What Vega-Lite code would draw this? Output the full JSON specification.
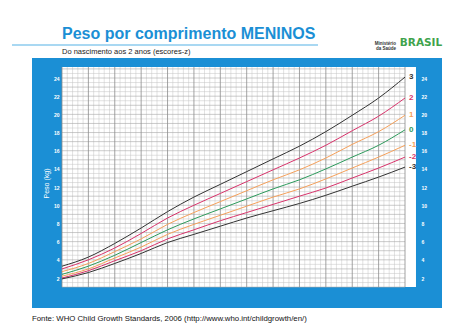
{
  "$schema": "https://vega.github.io/schema/vega-lite/v6.json",
  "width": 410,
  "height": 250,
  "autosize": "none",
  "padding": {"left": 32, "top": 58, "right": 32, "bottom": 27},
  "background": "white",
  "config": {"view": {"fill": "#1b8fd5", "stroke": null}, "font": "Liberation Sans"},
  "title": {
    "text": "Peso por comprimento MENINOS",
    "subtitle": "Do nascimento aos 2 anos (escores-z)",
    "anchor": "start",
    "frame": "group",
    "dx": 30,
    "offset": -18,
    "color": "#1b8fd5",
    "fontSize": 16,
    "fontWeight": "bold",
    "font": "Liberation Sans",
    "subtitleColor": "#222222",
    "subtitleFontSize": 7.5,
    "subtitleFont": "Liberation Sans",
    "subtitlePadding": 6
  },
  "datasets": {
    "curves": [
      {"len":45,"z":"3","w":3.3},{"len":50,"z":"3","w":4.3},{"len":55,"z":"3","w":5.8},{"len":60,"z":"3","w":7.5},{"len":65,"z":"3","w":9.3},{"len":70,"z":"3","w":10.9},{"len":75,"z":"3","w":12.3},{"len":80,"z":"3","w":13.7},{"len":85,"z":"3","w":15.1},{"len":90,"z":"3","w":16.5},{"len":95,"z":"3","w":18.1},{"len":100,"z":"3","w":19.9},{"len":105,"z":"3","w":21.8},{"len":110,"z":"3","w":24.1},
      {"len":45,"z":"2","w":3.0},{"len":50,"z":"2","w":4.0},{"len":55,"z":"2","w":5.3},{"len":60,"z":"2","w":6.9},{"len":65,"z":"2","w":8.6},{"len":70,"z":"2","w":10.0},{"len":75,"z":"2","w":11.3},{"len":80,"z":"2","w":12.6},{"len":85,"z":"2","w":13.9},{"len":90,"z":"2","w":15.2},{"len":95,"z":"2","w":16.6},{"len":100,"z":"2","w":18.2},{"len":105,"z":"2","w":19.8},{"len":110,"z":"2","w":21.8},
      {"len":45,"z":"1","w":2.7},{"len":50,"z":"1","w":3.6},{"len":55,"z":"1","w":4.9},{"len":60,"z":"1","w":6.3},{"len":65,"z":"1","w":7.9},{"len":70,"z":"1","w":9.2},{"len":75,"z":"1","w":10.4},{"len":80,"z":"1","w":11.6},{"len":85,"z":"1","w":12.8},{"len":90,"z":"1","w":13.9},{"len":95,"z":"1","w":15.2},{"len":100,"z":"1","w":16.7},{"len":105,"z":"1","w":18.1},{"len":110,"z":"1","w":19.9},
      {"len":45,"z":"0","w":2.4},{"len":50,"z":"0","w":3.3},{"len":55,"z":"0","w":4.5},{"len":60,"z":"0","w":5.9},{"len":65,"z":"0","w":7.3},{"len":70,"z":"0","w":8.5},{"len":75,"z":"0","w":9.6},{"len":80,"z":"0","w":10.7},{"len":85,"z":"0","w":11.8},{"len":90,"z":"0","w":12.8},{"len":95,"z":"0","w":14.0},{"len":100,"z":"0","w":15.3},{"len":105,"z":"0","w":16.6},{"len":110,"z":"0","w":18.3},
      {"len":45,"z":"-1","w":2.2},{"len":50,"z":"-1","w":3.0},{"len":55,"z":"-1","w":4.2},{"len":60,"z":"-1","w":5.4},{"len":65,"z":"-1","w":6.8},{"len":70,"z":"-1","w":7.9},{"len":75,"z":"-1","w":8.9},{"len":80,"z":"-1","w":9.9},{"len":85,"z":"-1","w":10.9},{"len":90,"z":"-1","w":11.8},{"len":95,"z":"-1","w":12.9},{"len":100,"z":"-1","w":14.1},{"len":105,"z":"-1","w":15.3},{"len":110,"z":"-1","w":16.6},
      {"len":45,"z":"-2","w":2.0},{"len":50,"z":"-2","w":2.8},{"len":55,"z":"-2","w":3.9},{"len":60,"z":"-2","w":5.0},{"len":65,"z":"-2","w":6.3},{"len":70,"z":"-2","w":7.3},{"len":75,"z":"-2","w":8.3},{"len":80,"z":"-2","w":9.2},{"len":85,"z":"-2","w":10.1},{"len":90,"z":"-2","w":11.0},{"len":95,"z":"-2","w":11.9},{"len":100,"z":"-2","w":13.0},{"len":105,"z":"-2","w":14.1},{"len":110,"z":"-2","w":15.3},
      {"len":45,"z":"-3","w":1.9},{"len":50,"z":"-3","w":2.6},{"len":55,"z":"-3","w":3.6},{"len":60,"z":"-3","w":4.7},{"len":65,"z":"-3","w":5.9},{"len":70,"z":"-3","w":6.8},{"len":75,"z":"-3","w":7.7},{"len":80,"z":"-3","w":8.6},{"len":85,"z":"-3","w":9.4},{"len":90,"z":"-3","w":10.2},{"len":95,"z":"-3","w":11.1},{"len":100,"z":"-3","w":12.1},{"len":105,"z":"-3","w":13.1},{"len":110,"z":"-3","w":14.2}
    ],
    "vmajor": [{"v":45},{"v":50},{"v":55},{"v":60},{"v":65},{"v":70},{"v":75},{"v":80},{"v":85},{"v":90},{"v":95},{"v":100},{"v":105},{"v":110}],
    "vminor": [{"v":46},{"v":47},{"v":48},{"v":49},{"v":51},{"v":52},{"v":53},{"v":54},{"v":56},{"v":57},{"v":58},{"v":59},{"v":61},{"v":62},{"v":63},{"v":64},{"v":66},{"v":67},{"v":68},{"v":69},{"v":71},{"v":72},{"v":73},{"v":74},{"v":76},{"v":77},{"v":78},{"v":79},{"v":81},{"v":82},{"v":83},{"v":84},{"v":86},{"v":87},{"v":88},{"v":89},{"v":91},{"v":92},{"v":93},{"v":94},{"v":96},{"v":97},{"v":98},{"v":99},{"v":101},{"v":102},{"v":103},{"v":104},{"v":106},{"v":107},{"v":108},{"v":109}],
    "hmajor": [{"h":1},{"h":2},{"h":3},{"h":4},{"h":5},{"h":6},{"h":7},{"h":8},{"h":9},{"h":10},{"h":11},{"h":12},{"h":13},{"h":14},{"h":15},{"h":16},{"h":17},{"h":18},{"h":19},{"h":20},{"h":21},{"h":22},{"h":23},{"h":24},{"h":25}],
    "hminor": [{"h":1.5},{"h":2.5},{"h":3.5},{"h":4.5},{"h":5.5},{"h":6.5},{"h":7.5},{"h":8.5},{"h":9.5},{"h":10.5},{"h":11.5},{"h":12.5},{"h":13.5},{"h":14.5},{"h":15.5},{"h":16.5},{"h":17.5},{"h":18.5},{"h":19.5},{"h":20.5},{"h":21.5},{"h":22.5},{"h":23.5},{"h":24.5}]
  },
  "layer": [
    {
      "data": {"values": [{}]},
      "mark": {"type": "rect", "fill": "white"},
      "encoding": {
        "x": {"datum": 45, "type": "quantitative", "scale": {"domain": [39.315, 117.01], "nice": false, "zero": false}, "axis": null},
        "x2": {"datum": 112.08},
        "y": {"datum": 1.01, "type": "quantitative", "scale": {"domain": [-1.3, 26.2], "nice": false, "zero": false}, "axis": null},
        "y2": {"datum": 25.21}
      }
    },
    {
      "data": {"name": "vminor"},
      "mark": {"type": "rule", "color": "#c4c4c4", "strokeWidth": 0.5},
      "encoding": {
        "x": {"field": "v", "type": "quantitative", "scale": {"domain": [39.315, 117.01], "nice": false, "zero": false}, "axis": null},
        "y": {"datum": 1.01, "type": "quantitative", "scale": {"domain": [-1.3, 26.2], "nice": false, "zero": false}, "axis": null},
        "y2": {"datum": 25.21}
      }
    },
    {
      "data": {"name": "hminor"},
      "mark": {"type": "rule", "color": "#c4c4c4", "strokeWidth": 0.5},
      "encoding": {
        "y": {"field": "h", "type": "quantitative", "scale": {"domain": [-1.3, 26.2], "nice": false, "zero": false}, "axis": null},
        "x": {"datum": 45, "type": "quantitative", "scale": {"domain": [39.315, 117.01], "nice": false, "zero": false}, "axis": null},
        "x2": {"datum": 110}
      }
    },
    {
      "data": {"name": "hmajor"},
      "mark": {"type": "rule", "color": "#a8a8a8", "strokeWidth": 0.6},
      "encoding": {
        "y": {"field": "h", "type": "quantitative", "scale": {"domain": [-1.3, 26.2], "nice": false, "zero": false}, "axis": null},
        "x": {"datum": 45, "type": "quantitative", "scale": {"domain": [39.315, 117.01], "nice": false, "zero": false}, "axis": null},
        "x2": {"datum": 110}
      }
    },
    {
      "data": {"name": "vmajor"},
      "mark": {"type": "rule", "color": "#8c8c8c", "strokeWidth": 0.8},
      "encoding": {
        "x": {"field": "v", "type": "quantitative", "scale": {"domain": [39.315, 117.01], "nice": false, "zero": false}, "axis": null},
        "y": {"datum": 1.01, "type": "quantitative", "scale": {"domain": [-1.3, 26.2], "nice": false, "zero": false}, "axis": null},
        "y2": {"datum": 25.21}
      }
    },
    {
      "data": {"name": "curves"},
      "mark": {"type": "line", "interpolate": "monotone", "strokeWidth": 1},
      "encoding": {
        "x": {"field": "len", "type": "quantitative", "scale": {"domain": [39.315, 117.01], "nice": false, "zero": false},
          "axis": {"values": [45,50,55,60,65,70,75,80,85,90,95,100,105,110], "orient": "bottom", "offset": -21, "domain": false, "ticks": false, "grid": false, "labelColor": "white", "labelFontSize": 5, "labelFontWeight": "bold", "labelPadding": 2, "title": "Comprimento (cm)", "titleColor": "white", "titleFontSize": 8, "titleFontWeight": "normal", "titlePadding": 3}},
        "y": {"field": "w", "type": "quantitative", "scale": {"domain": [-1.3, 26.2], "nice": false, "zero": false},
          "axis": {"values": [2,4,6,8,10,12,14,16,18,20,22,24], "orient": "left", "offset": -30, "domain": false, "ticks": false, "grid": false, "labelColor": "white", "labelFontSize": 5, "labelFontWeight": "bold", "labelPadding": 3, "title": "Peso (kg)", "titleColor": "white", "titleFontSize": 7, "titleFontWeight": "normal", "titlePadding": 4}},
        "color": {"field": "z", "type": "nominal", "scale": {"domain": ["3","2","1","0","-1","-2","-3"], "range": ["#333333","#d8336b","#f5a05a","#2c9a5b","#f5a05a","#d8336b","#333333"]}, "legend": null},
        "order": {"field": "len", "type": "quantitative"}
      }
    },
    {
      "data": {"name": "curves"},
      "transform": [{"filter": "datum.len == 110"}],
      "mark": {"type": "text", "align": "left", "baseline": "middle", "dx": 4, "fontSize": 8, "fontWeight": "bold"},
      "encoding": {
        "x": {"field": "len", "type": "quantitative", "scale": {"domain": [39.315, 117.01], "nice": false, "zero": false}, "axis": null},
        "y": {"field": "w", "type": "quantitative", "scale": {"domain": [-1.3, 26.2], "nice": false, "zero": false},
          "axis": {"values": [2,4,6,8,10,12,14,16,18,20,22,24], "orient": "right", "offset": -26, "domain": false, "ticks": false, "grid": false, "labelColor": "white", "labelFontSize": 5, "labelFontWeight": "bold", "labelPadding": 5, "title": null}},
        "text": {"field": "z"},
        "color": {"field": "z", "type": "nominal", "scale": {"domain": ["3","2","1","0","-1","-2","-3"], "range": ["#333333","#d8336b","#f5a05a","#2c9a5b","#f5a05a","#d8336b","#333333"]}, "legend": null}
      }
    },
    {
      "data": {"values": [{}]},
      "mark": {"type": "rule", "color": "#8ccbee", "strokeWidth": 1.5},
      "encoding": {
        "x": {"datum": 35.52, "type": "quantitative", "scale": {"domain": [39.315, 117.01], "nice": false, "zero": false}, "axis": null},
        "x2": {"datum": 93.51},
        "y": {"datum": 27.63, "type": "quantitative", "scale": {"domain": [-1.3, 26.2], "nice": false, "zero": false}, "axis": null}
      }
    },
    {
      "data": {"values": [{"t": "Fonte: WHO Child Growth Standards, 2006 (http://www.who.int/childgrowth/en/)"}]},
      "mark": {"type": "text", "align": "left", "baseline": "middle", "fontSize": 7.8, "color": "#111111"},
      "encoding": {
        "x": {"datum": 39.315, "type": "quantitative", "scale": {"domain": [39.315, 117.01], "nice": false, "zero": false}, "axis": null},
        "y": {"datum": -2.51, "type": "quantitative", "scale": {"domain": [-1.3, 26.2], "nice": false, "zero": false}, "axis": null},
        "text": {"field": "t"}
      }
    },
    {
      "data": {"values": [{"t": ["Ministério", "da Saúde"]}]},
      "mark": {"type": "text", "align": "right", "baseline": "middle", "fontSize": 4.5, "fontWeight": "bold", "color": "#333333", "lineHeight": 5},
      "encoding": {
        "x": {"datum": 108.3, "type": "quantitative", "scale": {"domain": [39.315, 117.01], "nice": false, "zero": false}, "axis": null},
        "y": {"datum": 27.7, "type": "quantitative", "scale": {"domain": [-1.3, 26.2], "nice": false, "zero": false}, "axis": null},
        "text": {"field": "t"}
      }
    },
    {
      "data": {"values": [{"t": "BRASIL"}]},
      "mark": {"type": "text", "align": "center", "baseline": "middle", "fontSize": 10.5, "fontWeight": "bold", "color": "#3fa34d", "font": "DejaVu Sans"},
      "encoding": {
        "x": {"datum": 113.03, "type": "quantitative", "scale": {"domain": [39.315, 117.01], "nice": false, "zero": false}, "axis": null},
        "y": {"datum": 27.9, "type": "quantitative", "scale": {"domain": [-1.3, 26.2], "nice": false, "zero": false}, "axis": null},
        "text": {"field": "t"}
      }
    }
  ],
  "resolve": {"axis": {"y": "independent"}}
}
